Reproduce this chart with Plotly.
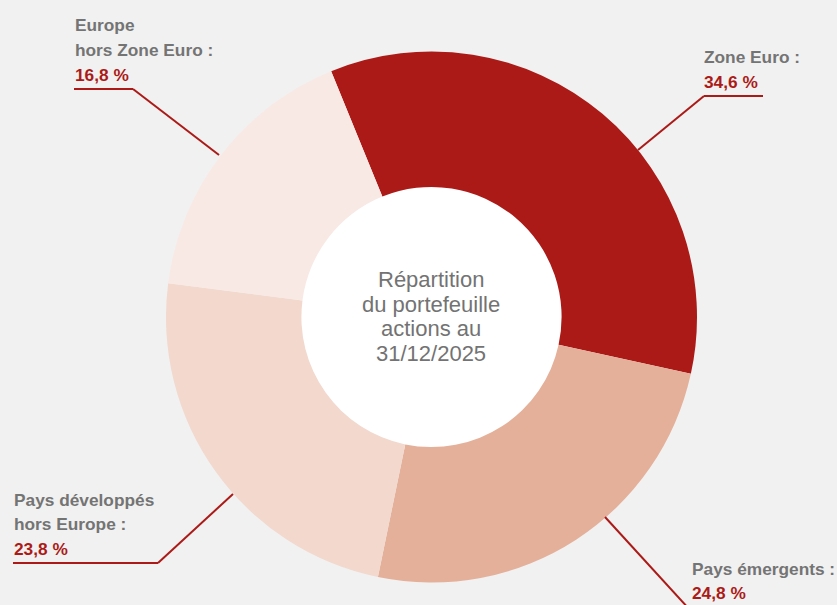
import plotly.graph_objects as go

# ---- data ----
categories = ["Zone Euro", "Pays émergents", "Pays développés hors Europe", "Europe hors Zone Euro"]
values = [34.6, 24.8, 23.8, 16.8]
value_labels = ["34,6 %", "24,8 %", "23,8 %", "16,8 %"]
label_lines = [["Zone Euro :"], ["Pays émergents :"], ["Pays développés", "hors Europe :"], ["Europe", "hors Zone Euro :"]]
center_lines = ["Répartition", "du portefeuille", "actions au", "31/12/2025"]

# ---- styling / layout config ----
W, H = 837, 605
colors = ["#AB1A17", "#E4B09A", "#F2D8CD", "#F8E9E4"]
RED = "#AB1A17"
GREY = "#747474"
BG = "#F1F1F1"
cx, cy, R = 431.5, 317.0, 265.5
hole = 0.49

def px(x):
    return x / W

def py(y):
    return 1 - y / H

# label anchor: (left x, first line middle y), line step
label_pos = [(703, 57), (691, 568.5), (13, 499.5), (74, 25.5)]
line_step = 24.5
# leader lines (pixel polyline points)
leaders = [
    [(763, 96), (704, 96), (638, 150)],
    [(605, 517), (690, 610)],
    [(13, 563), (158, 563), (233, 494)],
    [(74, 89), (133, 89), (219, 155)],
]

label_font = dict(family="Liberation Sans, Arial, sans-serif", size=17.3)

fig = go.Figure()
fig.add_trace(go.Pie(
    labels=categories, values=values, sort=False, direction="clockwise",
    rotation=-22.2, hole=hole, textinfo="none",
    marker=dict(colors=colors, line=dict(width=0)),
    domain=dict(x=[px(cx - R), px(cx + R)], y=[py(cy + R), py(cy - R)]),
    showlegend=False, hoverinfo="label+percent",
))

shapes = []
# white centre disc behind the hole
rc = R * hole + 6
shapes.append(dict(type="circle", xref="paper", yref="paper", layer="below",
                   x0=px(cx - rc), x1=px(cx + rc), y0=py(cy + rc), y1=py(cy - rc),
                   fillcolor="white", line=dict(width=0)))
for pts in leaders:
    for (x0, y0), (x1, y1) in zip(pts[:-1], pts[1:]):
        shapes.append(dict(type="line", xref="paper", yref="paper",
                           x0=px(x0), y0=py(y0), x1=px(x1), y1=py(y1),
                           line=dict(color=RED, width=2)))

annotations = []
for (lx, ly), lines, val in zip(label_pos, label_lines, value_labels):
    allines = [(t, GREY) for t in lines] + [(val, RED)]
    for i, (t, c) in enumerate(allines):
        annotations.append(dict(
            x=px(lx - 1), y=py(ly + i * line_step), xref="paper", yref="paper",
            xanchor="left", yanchor="middle", showarrow=False,
            text="<b>" + t + "</b>", font=dict(color=c, **label_font)))

center_step = 24.5
for i, t in enumerate(center_lines):
    yy = cy - 1.5 * center_step + i * center_step - 0.5
    annotations.append(dict(
        x=px(cx), y=py(yy), xref="paper", yref="paper",
        xanchor="center", yanchor="middle", showarrow=False,
        text=t, font=dict(family="Liberation Sans, Arial, sans-serif", size=22, color="#737373")))

fig.update_layout(
    width=W, height=H, margin=dict(l=0, r=0, t=0, b=0),
    paper_bgcolor=BG, plot_bgcolor=BG,
    shapes=shapes, annotations=annotations,
)

fig.write_html(
    "out.html",
    config={"displayModeBar": False},
    post_script="document.body.style.margin='0';document.body.style.background='" + BG + "';",
)
